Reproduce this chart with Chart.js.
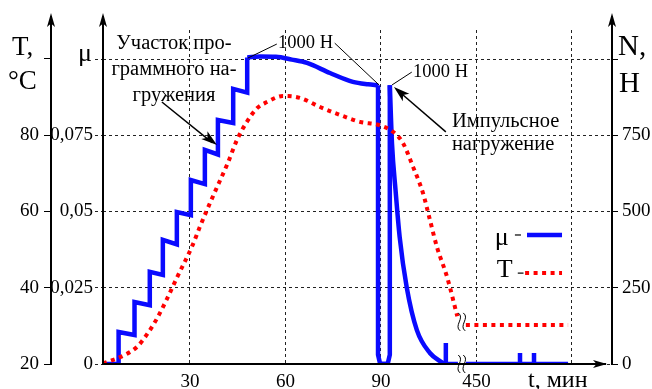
<!DOCTYPE html>
<html>
<head>
<meta charset="utf-8">
<script src="https://cdn.jsdelivr.net/npm/chart.js@4"></script>
<style>
  body { margin: 0; background: #fff; }
  canvas { display: block; }
</style>
</head>
<body>
<canvas id="grafico" width="652" height="389"></canvas>
<script>
// время в минутах; после разрыва оси (90 ... 450) время сдвигается на ось
const toAxis = (t) => (t < 200 ? t : t - 330);

const xTicks = [30, 60, 90, 450, 480];
const xTickLabels = ["30", "60", "90", "450", ""];
const muTicks = [0, 0.025, 0.05, 0.075, 0.1];
const muTickLabels = ["0", "0,025", "0,05", "0,075", ""];
const tTicks = [20, 40, 60, 80, 100];
const tTickLabels = ["20", "40", "60", "80", ""];
const nTicks = [0, 250, 500, 750, 1000];
const nTickLabels = ["0", "250", "500", "750", ""];

// μ - участок программного (ступенчатого) нагружения
const stairT = [2.7, 7.6, 7.6, 12.6, 12.6, 17.4, 17.4, 21.5, 21.5, 25.9, 25.9, 30.3, 30.3, 34.7, 34.7, 38.8, 38.8, 43.6, 43.6, 48.0, 48.0];
const stairMu = [0, 0, 0.0105, 0.0095, 0.0203, 0.0193, 0.0302, 0.0292, 0.0407, 0.0392, 0.0498, 0.0488, 0.0603, 0.059, 0.0702, 0.0687, 0.080, 0.079, 0.0902, 0.089, 0.1005];

// μ при 1000 Н
const plateauT = [48.0, 52, 57, 62, 66.8, 74.0, 81.2, 86, 89.1];
const plateauMu = [0.1005, 0.1008, 0.1007, 0.0998, 0.0987, 0.0954, 0.0925, 0.0917, 0.0914];

// разгрузка и импульсное нагружение
const pulseT = [89.1, 89.1, 89.7, 91.0, 92.2, 92.8, 92.8];
const pulseMu = [0.0914, 0.003, 0.0003, 0, 0.0003, 0.003, 0.0914];

const decayT = [92.8, 93.5, 94.6, 95.9, 98.1, 101.3, 105.4, 109.5];
const decayMu = [0.0914, 0.072, 0.057, 0.0416, 0.0252, 0.0111, 0.0036, 0.0003];

const tailT = [109.5, 110.4, 110.4, 110.4, 114.2];
const tailMu = [0, 0, 0.0069, 0, 0];

const lateT = [446.7, 463.7, 463.7, 463.7, 468.1, 468.1, 468.1, 478.8];
const lateMu = [0, 0, 0.0036, 0, 0, 0.0036, 0, 0];

// T, °C
const tempT = [2.7, 9.6, 13.4, 16.8, 19.9, 23.1, 25.9, 30.6, 33.1, 36.3, 38.8, 41.9, 44.8, 47.9, 51.1, 54.2, 59.2, 64.6, 70.9, 77.2, 83.4, 89.7, 93.8, 96.9, 100.1, 103.2, 105.4, 107.6, 110.8, 114.0];
const temp = [20.1, 22.4, 24.5, 28.1, 32.3, 37.6, 42.6, 50.7, 55.9, 62.2, 66.9, 72.7, 78.8, 83.5, 87.1, 88.7, 90.3, 89.8, 87.4, 85.3, 83.5, 82.6, 80.9, 78.0, 71.7, 64.9, 57.8, 50.7, 42.8, 32.5];
const tempLateT = [446.7, 478.8];
const tempLate = [30.2, 30.2];

const blue = "#0a0aff";
const red = "#ff0000";
const serif = "'Liberation Serif', 'Times New Roman', serif";

const pts = (ts, vs) => ts.map((t, i) => ({ x: toAxis(t), y: vs[i] }));

const muLine = (data, curved) => ({
  data,
  yAxisID: "yMu",
  borderColor: blue,
  borderWidth: 4.5,
  tension: curved ? 0.4 : 0,
  cubicInterpolationMode: curved ? "monotone" : "default",
  borderJoinStyle: "miter",
});
const tLine = (data) => ({
  data,
  yAxisID: "yT",
  borderColor: red,
  borderWidth: 4,
  borderDash: [4, 4.5],
  borderCapStyle: "butt",
  tension: 0.4,
  cubicInterpolationMode: "monotone",
});

const decor = {
  id: "decor",
  afterDraw(chart) {
    const { ctx, chartArea: a, scales } = chart;
    const { x, yMu, yT } = scales;
    const P = (v, mu) => [x.getPixelForValue(v), yMu.getPixelForValue(mu)];
    ctx.save();
    ctx.strokeStyle = "#000";
    ctx.fillStyle = "#000";

    const line = (p, q, w) => {
      ctx.lineWidth = w;
      ctx.beginPath();
      ctx.moveTo(p[0], p[1]);
      ctx.lineTo(q[0], q[1]);
      ctx.stroke();
    };
    const head = (tip, from, len, half) => {
      const ang = Math.atan2(tip[1] - from[1], tip[0] - from[0]);
      const c = Math.cos(ang), s = Math.sin(ang);
      const bx = tip[0] - c * len, by = tip[1] - s * len;
      ctx.beginPath();
      ctx.moveTo(tip[0], tip[1]);
      ctx.lineTo(bx - s * half, by + c * half);
      ctx.lineTo(tip[0] - c * len * 0.75, tip[1] - s * len * 0.75);
      ctx.lineTo(bx + s * half, by - c * half);
      ctx.closePath();
      ctx.fill();
    };
    const text = (str, px, py, size, align) => {
      ctx.font = size + "px " + serif;
      ctx.textAlign = align || "left";
      ctx.textBaseline = "alphabetic";
      ctx.fillText(str, px, py);
    };

    // оси со стрелками
    const tx = yT.right;
    [tx, a.left, a.right].forEach((xp) => {
      line([xp, a.bottom + 1], [xp, 16], 2);
      head([xp, 13], [xp, 40], 14, 4);
    });
    line([a.left - 1, a.bottom], [a.right - 6, a.bottom], 2);
    head([a.right - 5, a.bottom], [a.left, a.bottom], 14, 4);

    // подписи осей
    text("T,", 12, 55, 27);
    text("°C", 8, 89, 27);
    text("μ", a.left - 11, yMu.getPixelForValue(0.1) + 2, 26, "right");
    text("N,", a.right + 6, 55, 29);
    text("H", a.right + 7, 92, 29);
    text("t, мин", 528, 387, 24);

    // разрывы оси
    const wave = (p) => {
      ctx.lineWidth = 1;
      [-2.5, 2.5].forEach((dx) => {
        ctx.beginPath();
        ctx.moveTo(p[0] + dx - 1, p[1] - 9);
        ctx.bezierCurveTo(p[0] + dx + 6, p[1] - 4, p[0] + dx - 6, p[1] + 4, p[0] + dx + 1, p[1] + 9);
        ctx.stroke();
      });
    };
    wave(P(115.4, 0.0138));
    wave(P(115.4, 0));

    // надписи
    [["Участок про-", 0.1033], ["граммного на-", 0.0948], ["гружения", 0.0862]].forEach(([s, mu]) => {
      const p = P(25.0, mu);
      text(s, p[0], p[1], 20.5, "center");
    });
    line(P(21.2, 0.0859), P(37.0, 0.0726), 1.5);
    head(P(38.5, 0.0718), P(21.2, 0.0859), 16, 5);

    let p = P(57.7, 0.1036);
    text("1000 Н", p[0], p[1], 18.5);
    line(P(57.3, 0.1049), P(48.2, 0.1003), 1);
    line(P(75.5, 0.1052), P(89.4, 0.0915), 1);

    p = P(100.1, 0.0941);
    text("1000 Н", p[0], p[1], 18.5);
    line(P(99.7, 0.0957), P(93.5, 0.0915), 1);

    p = P(112.3, 0.0777);
    text("Импульсное", p[0], p[1], 20.5);
    p = P(112.3, 0.0702);
    text("нагружение", p[0], p[1], 20.5);
    line(P(110.4, 0.0761), P(95.5, 0.0895), 1.5);
    head(P(94.1, 0.0908), P(110.4, 0.0761), 16, 5);

    // легенда
    p = P(125.8, 0.039);
    text("μ", p[0], p[1], 26);
    line(P(132.1, 0.0423), P(134.0, 0.0423), 1.2);
    ctx.strokeStyle = blue;
    line(P(135.9, 0.0423), P(146.9, 0.0423), 4.5);
    ctx.strokeStyle = "#000";
    p = P(126.4, 0.0285);
    text("T", p[0], p[1], 26);
    line(P(133.0, 0.0298), P(134.8, 0.0298), 1.2);
    ctx.strokeStyle = red;
    ctx.setLineDash([4, 4.5]);
    line(P(135.3, 0.0298), P(146.9, 0.0298), 4);
    ctx.restore();
  },
};

const tickFont = { family: serif, size: 19 };

new Chart(document.getElementById("grafico"), {
  type: "line",
  data: {
    datasets: [
      tLine(pts(tempT, temp)),
      tLine(pts(tempLateT, tempLate)),
      muLine(pts(stairT, stairMu), false),
      muLine(pts(plateauT, plateauMu), true),
      muLine(pts(pulseT, pulseMu), false),
      muLine(pts(decayT, decayMu), true),
      muLine(pts(tailT, tailMu), false),
      muLine(pts(lateT, lateMu), false),
    ],
  },
  options: {
    responsive: false,
    animation: false,
    layout: { padding: { top: 30, left: 0, right: 0, bottom: 0 } },
    elements: { point: { radius: 0 } },
    plugins: { legend: { display: false }, tooltip: { enabled: false } },
    scales: {
      x: {
        type: "linear",
        min: 2.7,
        max: 162.6,
        afterBuildTicks: (s) => { s.ticks = xTicks.map((t) => ({ value: toAxis(t) })); },
        afterFit: (s) => { s.height = 25; },
        grid: { color: "#222", lineWidth: 1, drawTicks: false },
        border: { display: false, dash: [3, 3] },
        ticks: {
          callback: (v, i) => xTickLabels[i],
          font: tickFont,
          color: "#000",
          padding: 7,
          autoSkip: false,
          maxRotation: 0,
        },
      },
      yT: {
        position: "left",
        weight: 1,
        min: 20,
        max: 107.6,
        afterBuildTicks: (s) => { s.ticks = tTicks.map((v) => ({ value: v })); },
        afterFit: (s) => { s.width = 51; },
        grid: { drawOnChartArea: false, color: "#000", tickLength: 7 },
        border: { display: false },
        ticks: { callback: (v, i) => tTickLabels[i], font: tickFont, color: "#000", padding: 5 },
      },
      yMu: {
        position: "left",
        weight: 0,
        min: 0,
        max: 0.10951,
        afterBuildTicks: (s) => { s.ticks = muTicks.map((v) => ({ value: v })); },
        afterFit: (s) => { s.width = 52; },
        grid: { color: "#222", tickLength: 8, tickBorderDash: [3, 3] },
        border: { display: false, dash: [3, 3] },
        ticks: { callback: (v, i) => muTickLabels[i], font: tickFont, color: "#000", padding: 2 },
      },
      yN: {
        position: "right",
        min: 0,
        max: 1095.1,
        afterBuildTicks: (s) => { s.ticks = nTicks.map((v) => ({ value: v })); },
        afterFit: (s) => { s.width = 40; },
        grid: { drawOnChartArea: false, color: "#000", tickLength: 6 },
        border: { display: false },
        ticks: { callback: (v, i) => nTickLabels[i], font: tickFont, color: "#000", padding: 4 },
      },
    },
  },
  plugins: [decor],
});
</script>
</body>
</html>
